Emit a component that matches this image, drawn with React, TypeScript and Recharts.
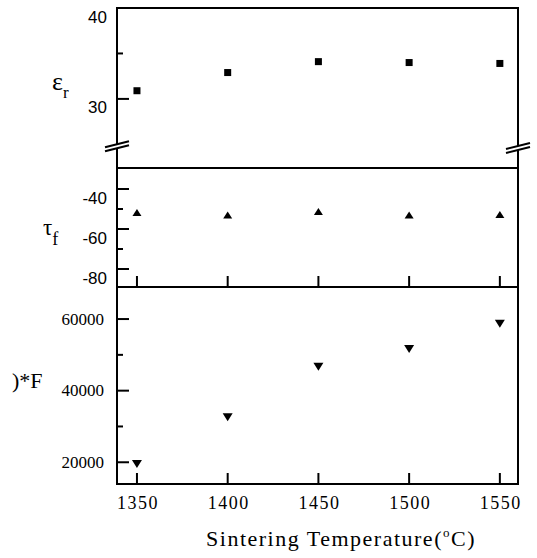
import React from "react";
import { ScatterChart, Scatter, XAxis, YAxis, ReferenceArea, ReferenceDot, Label } from "recharts";

// sintering temperature (°C) and measured properties
const temps = [1350, 1400, 1450, 1500, 1550];
const permittivity = [30.9, 32.9, 34.1, 34.0, 33.9];
const tauF = [-51.7, -53.0, -51.3, -53.0, -52.7];
const qf = [19500, 32600, 46700, 51600, 58700];

const erTicks = [30, 35, 40];
const erLabeled = [30, 40];
const tfTicks = [-80, -70, -60, -50, -40];
const tfLabeled = [-80, -60, -40];
const qfTicks = [20000, 30000, 40000, 50000, 60000];
const qfLabeled = [20000, 40000, 60000];

const X_DOMAIN: [number, number] = [1339, 1560];
const ER_DOMAIN: [number, number] = [22.4, 40];
const TF_DOMAIN: [number, number] = [-89, -29.5];
const QF_DOMAIN: [number, number] = [13930, 68950];
const ER_BREAK = 24.8;

const SANS = '"Liberation Sans", Arial, sans-serif';
const SERIF = '"Liberation Serif", "DejaVu Serif", serif';

const toPoints = (ys: number[]) => temps.map((t, i) => ({ t, v: ys[i] }));

const Square = (p: any) => <rect x={p.cx - 3.5} y={p.cy - 3.5} width={7} height={7} fill="#000" />;
const TriUp = (p: any) => (
  <polygon points={`${p.cx - 4.5},${p.cy + 3.5} ${p.cx + 4.5},${p.cy + 3.5} ${p.cx},${p.cy - 3.5}`} fill="#000" />
);
const TriDown = (p: any) => (
  <polygon points={`${p.cx - 5},${p.cy - 4} ${p.cx + 5},${p.cy - 4} ${p.cx},${p.cy + 4}`} fill="#000" />
);

// the "//" axis break on the frame sides
const BreakMark = (p: any) => {
  const { cx, cy } = p;
  return (
    <g>
      <polygon points={`${cx - 12},${cy + 1} ${cx + 12},${cy - 5} ${cx + 12},${cy - 1} ${cx - 12},${cy + 5}`} fill="#fff" />
      <line x1={cx - 12} y1={cy + 1} x2={cx + 12} y2={cy - 5} stroke="#000" strokeWidth={2} />
      <line x1={cx - 12} y1={cy + 5} x2={cx + 12} y2={cy - 1} stroke="#000" strokeWidth={2} />
    </g>
  );
};

// inward ticks, labels only on the major ones
const makeYTick = (labeled: number[], font: string, gap: number, dy: number) => (props: any) => {
  const { x, y, payload } = props;
  const major = labeled.includes(payload.value);
  return (
    <g>
      <line x1={x} y1={y} x2={x + (major ? 12 : 6)} y2={y} stroke="#000" strokeWidth={2} />
      {major && (
        <text x={x - gap} y={y + dy} textAnchor="end" dominantBaseline="central" fontFamily={font} fontSize={17} fill="#000">
          {payload.value}
        </text>
      )}
    </g>
  );
};

const makeXTick = (withLabel: boolean) => (props: any) => {
  const { x, y, payload } = props;
  return (
    <g>
      <line x1={x} y1={y} x2={x} y2={y - 11} stroke="#000" strokeWidth={2} />
      {withLabel && (
        <text x={x + 1} y={y + 19} textAnchor="middle" dominantBaseline="central" fontFamily={SERIF} fontSize={18} letterSpacing={1.5} fill="#000">
          {payload.value}
        </text>
      )}
    </g>
  );
};

const frame = (domain: [number, number]) => (
  <ReferenceArea x1={X_DOMAIN[0]} x2={X_DOMAIN[1]} y1={domain[0]} y2={domain[1]} fill="none" stroke="#000" strokeWidth={2} ifOverflow="visible" />
);

const yAxisProps = {
  dataKey: "v",
  type: "number" as const,
  width: 117,
  allowDataOverflow: true,
  interval: 0 as const,
  tickSize: 0,
  tickMargin: 0,
  axisLine: { stroke: "#000", strokeWidth: 2 },
};

const margin = { top: 8, right: 19, bottom: 0, left: 0 };

export default function App() {
  return (
    <div style={{ position: "absolute", left: 0, top: 0, width: 537, height: 558, background: "#fff" }}>
      {/* dielectric constant */}
      <div style={{ position: "absolute", left: 0, top: 0 }}>
        <ScatterChart width={537} height={172} margin={{ ...margin, bottom: 4 }}>
          <XAxis dataKey="t" type="number" domain={X_DOMAIN} hide allowDataOverflow />
          <YAxis {...yAxisProps} domain={ER_DOMAIN} ticks={erTicks} tick={makeYTick(erLabeled, SANS, 10, 9)}>
            <Label
              content={(p: any) => (
                <text x={52} y={p.viewBox.y + 82} fontFamily={SERIF} fontSize={26} fill="#000">
                  ε<tspan fontSize={17} dy={8}>r</tspan>
                </text>
              )}
            />
          </YAxis>
          {frame(ER_DOMAIN)}
          <Scatter data={toPoints(permittivity)} shape={Square} isAnimationActive={false} />
          <ReferenceDot x={X_DOMAIN[0]} y={ER_BREAK} ifOverflow="visible" shape={BreakMark} />
          <ReferenceDot x={X_DOMAIN[1]} y={ER_BREAK - 0.2} ifOverflow="visible" shape={BreakMark} />
        </ScatterChart>
      </div>

      {/* temperature coefficient */}
      <div style={{ position: "absolute", left: 0, top: 160 }}>
        <ScatterChart width={537} height={132} margin={margin}>
          <XAxis dataKey="t" type="number" domain={X_DOMAIN} ticks={temps} interval={0} height={5} tickSize={0} tickMargin={0} axisLine={false} tick={makeXTick(false)} allowDataOverflow />
          <YAxis {...yAxisProps} domain={TF_DOMAIN} ticks={tfTicks} tick={makeYTick(tfLabeled, SANS, 10, 9)}>
            <Label
              content={(p: any) => (
                <text x={43} y={p.viewBox.y + 67} fontFamily={SERIF} fontSize={23} fill="#000">
                  τ<tspan fontSize={18} dy={10}>f</tspan>
                </text>
              )}
            />
          </YAxis>
          {frame(TF_DOMAIN)}
          <Scatter data={toPoints(tauF)} shape={TriUp} isAnimationActive={false} />
        </ScatterChart>
      </div>

      {/* Q*F */}
      <div style={{ position: "absolute", left: 0, top: 279 }}>
        <ScatterChart width={537} height={279} margin={margin}>
          <XAxis dataKey="t" type="number" domain={X_DOMAIN} ticks={temps} interval={0} height={74} tickSize={0} tickMargin={0} axisLine={false} tick={makeXTick(true)} allowDataOverflow>
            <Label
              content={(p: any) => (
                <text x={p.viewBox.x + 224} y={p.viewBox.y + 62} textAnchor="middle" fontFamily={SERIF} fontSize={22} letterSpacing={1.5} fill="#000">
                  Sintering Temperature(<tspan fontSize={13} dy={-9}>o</tspan>
                  <tspan dy={9}>C)</tspan>
                </text>
              )}
            />
          </XAxis>
          <YAxis {...yAxisProps} domain={QF_DOMAIN} ticks={qfTicks} tick={makeYTick(qfLabeled, SERIF, 13, 0)}>
            <Label
              content={(p: any) => (
                <text x={12} y={p.viewBox.y + 101} fontFamily={SERIF} fontSize={22} fill="#000">
                  )*F
                </text>
              )}
            />
          </YAxis>
          {frame(QF_DOMAIN)}
          <Scatter data={toPoints(qf)} shape={TriDown} isAnimationActive={false} />
        </ScatterChart>
      </div>
    </div>
  );
}
